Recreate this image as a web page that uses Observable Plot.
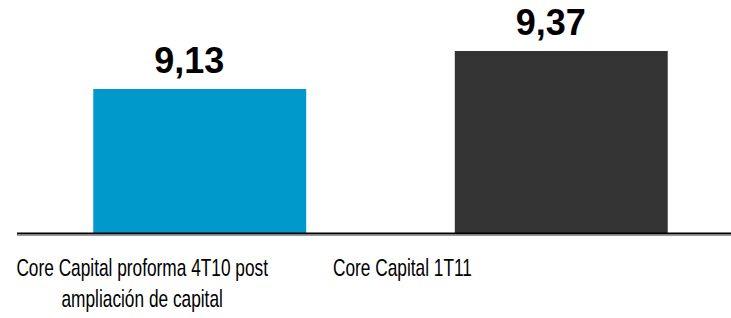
<!DOCTYPE html>
<html>
<head>
<meta charset="utf-8">
<script src="https://cdn.jsdelivr.net/npm/d3@7"></script>
<script src="https://cdn.jsdelivr.net/npm/@observablehq/plot@0.6"></script>
<style>
  html, body { margin: 0; padding: 0; background: #fff; }
  #chart { width: 731px; height: 318px; overflow: hidden; }
</style>
</head>
<body>
<div id="chart"></div>
<script>
const categories = ["Core Capital proforma 4T10 post\nampliación de capital", "Core Capital 1T11"];
const values = [9.13, 9.37];
const valueLabels = ["9,13", "9,37"];
const barColors = ["#0099CC", "#333333"];
const yMin = 8.22;

const data = categories.map((c, i) => ({cat: c, value: values[i], label: valueLabels[i], color: barColors[i]}));

const plot = Plot.plot({
  width: 731,
  height: 318,
  marginLeft: 17,
  marginRight: 0,
  marginTop: 0,
  marginBottom: 85,
  style: {fontFamily: "'Liberation Sans', Arial, sans-serif", background: "#fff", overflow: "visible"},
  x: {domain: categories, range: [13, 748], paddingInner: 0.411, paddingOuter: 0.222, round: false, axis: null},
  y: {domain: [yMin, 9.37], range: [233, 51], axis: null},
  marks: [
    Plot.barY(data, {x: "cat", y1: yMin, y2: "value", fill: "color"}),
    Plot.ruleY([yMin], {stroke: "#999", strokeWidth: 1, dy: 2}),
    Plot.ruleY([yMin], {stroke: "#000", strokeWidth: 2}),
    Plot.text(data, {x: "cat", y: "value", text: "label", lineAnchor: "bottom", dx: -11, dy: -16.5, fontSize: 36, fontWeight: "bold", fill: "#000"}),
    Plot.text(data, {x: "cat", text: "cat", frameAnchor: "bottom", lineAnchor: "top", lineHeight: 1.3, dy: 20, fontSize: 24, fill: "#000"})
  ]
});
document.getElementById("chart").appendChild(plot);
// compress the category label row horizontally, as in the reference
const groups = Array.from(plot.querySelectorAll("g")).filter(g =>
  Array.from(g.children).some(c => c.tagName.toLowerCase() === "text" && c.textContent.includes("Core Capital")));
groups.forEach(g => {
  const t = g.getAttribute("transform") || "";
  g.setAttribute("transform", `translate(-2,0) scale(0.72,1) ${t}`);
});
</script>
</body>
</html>
